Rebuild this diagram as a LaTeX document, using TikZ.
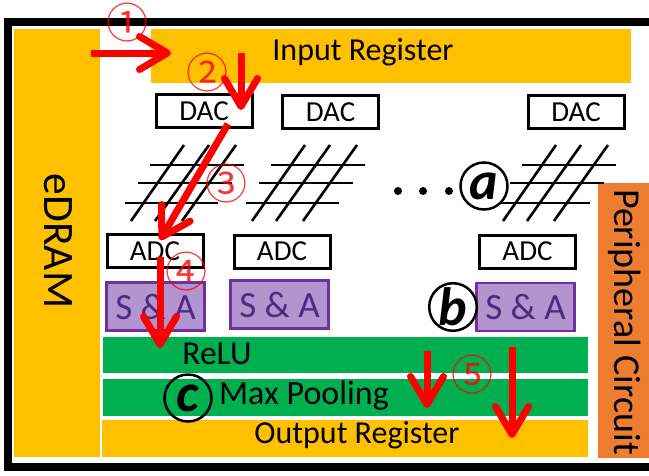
\documentclass[tikz,border=0pt]{standalone}
\usepackage{fontspec}
\setmainfont{Carlito}
\newfontfamily\cjknum{Noto Sans CJK SC}
\usetikzlibrary{arrows.meta}
\definecolor{ambr}{HTML}{FFC000}
\definecolor{grn}{HTML}{00B050}
\definecolor{orng}{HTML}{ED7D31}
\definecolor{lil}{HTML}{B294CF}
\definecolor{purp}{HTML}{7030A0}
\definecolor{purt}{HTML}{4F2A7F}
\newcommand{\fs}[1]{\fontsize{#1}{#1}\selectfont}
\tikzset{
  x=1pt,y=-1pt,
  band/.style={inner sep=0pt,outer sep=0pt,anchor=north west},
  conv/.style={draw=black,line width=3pt,fill=white,minimum width=96pt,minimum height=33pt,inner sep=0pt,font=\fs{29}},
  sa/.style={draw=purp,line width=2.8pt,fill=lil,text=purt,minimum width=98pt,minimum height=48pt,inner sep=0pt,font=\fs{37}},
  wire/.style={black,line width=2.6pt},
  flow/.style={red,line width=7pt,-{Straight Barb[round,length=28pt,width=33pt,line width=7pt]}},
  numr/.style={red,text opacity=.8,inner sep=0pt,font=\cjknum\fs{42}},
  tag/.style={draw=black,circle,line width=2.5pt,minimum size=47pt,inner sep=0pt,font=\bfseries\itshape\fs{54}},
  dot/.style={circle,fill=black,minimum size=8pt,inner sep=0pt}
}
\begin{document}
\begin{tikzpicture}
\useasboundingbox (0,0) rectangle (649,475);
\fill[white] (0,0) rectangle (649,475);
\draw[black,line width=7.5pt] (649,22) -- (8,22) -- (8,467) -- (649,467);
% bands
\node[band,fill=ambr,minimum width=86pt,minimum height=428pt] (edram) at (14,29) {};
\node[rotate=-90,font=\fs{43.5}] (edramt) at (58,241) {eDRAM};
\node[band,fill=ambr,minimum width=480pt,minimum height=54pt] (inreg) at (151,29) {};
\node[font=\fs{32}] (inregt) at (363,52) {Input Register};
\node[band,fill=orng,minimum width=51pt,minimum height=275pt] (peri) at (598,183) {};
\node[rotate=-90,font=\fs{38}] (perit) at (625,322) {Peripheral Circuit};
\node[band,fill=grn,minimum width=485pt,minimum height=36pt] (relu) at (103,337) {};
\node[font=\fs{33.5}] (relut) at (217,354) {ReLU};
\node[band,fill=grn,minimum width=485pt,minimum height=37pt] (maxp) at (103,379) {};
\node[font=\fs{34}] (maxpt) at (304,396) {Max Pooling};
\node[band,fill=ambr,minimum width=486pt,minimum height=37pt] (outr) at (102,420) {};
\node[font=\fs{32}] (outrt) at (357,435) {Output Register};
% converters
\node[conv] (dac1) at (204,111) {DAC};
\node[conv] (dac2) at (330.5,112) {DAC};
\node[conv] (dac3) at (576,112) {DAC};
\node[conv] (adc1) at (155,251) {ADC};
\node[conv] (adc2) at (282,251.5) {ADC};
\node[conv] (adc3) at (527.5,251.5) {ADC};
\node[sa] (sa1) at (155.5,306.5) {S \& A};
\node[sa] (sa2) at (279.5,304.5) {S \& A};
\node[sa] (sa3) at (525.5,307) {S \& A};
% crossbars
\foreach \d in {0,121,372}{
  \begin{scope}[xshift=\d pt]
  \draw[wire] (150,165) -- (244,165);
  \draw[wire] (138,183) -- (232,183);
  \draw[wire] (125,203) -- (218,203);
  \draw[wire] (184,145) -- (131,221);
  \draw[wire] (209,145) -- (155,221);
  \draw[wire] (236,145) -- (182,221);
  \end{scope}
}
\node[dot] (d1) at (398,191) {};
\node[dot] (d2) at (423,191) {};
\node[dot] (d3) at (449,191) {};
% tags
\node[tag,fill=white] (taga) at (484,186) {a};
\node[tag,fill=white] (tagb) at (453,307) {b};
\node[tag] (tagc) at (188,398) {c};
% flow ends
\coordinate (f1a) at (91,53);  \coordinate (f1b) at (171,53);
\coordinate (f2a) at (241,53); \coordinate (f2b) at (241,110);
\coordinate (f3a) at (228,124);\coordinate (f3b) at (160,240);
\coordinate (f4a) at (160,257);\coordinate (f4b) at (160,348);
\coordinate (f5a) at (427,351);\coordinate (f5b) at (427,408);
\coordinate (f6a) at (512,347);\coordinate (f6b) at (512,438);
\draw[flow] (f1a) -- (f1b);
\draw[flow] (f2a) -- (f2b);
\draw[flow] (f3a) -- (f3b);
\draw[flow] (f4a) -- (f4b);
\draw[flow] (f5a) -- (f5b);
\draw[flow] (f6a) -- (f6b);
% numbers
\node[numr] (n1) at (127,23) {①};
\node[numr] (n2) at (207,73) {②};
\node[numr] (n3) at (226,184) {③};
\node[numr] (n4) at (186,272) {④};
\node[numr] (n5) at (472,375) {⑤};
\end{tikzpicture}
\end{document}
